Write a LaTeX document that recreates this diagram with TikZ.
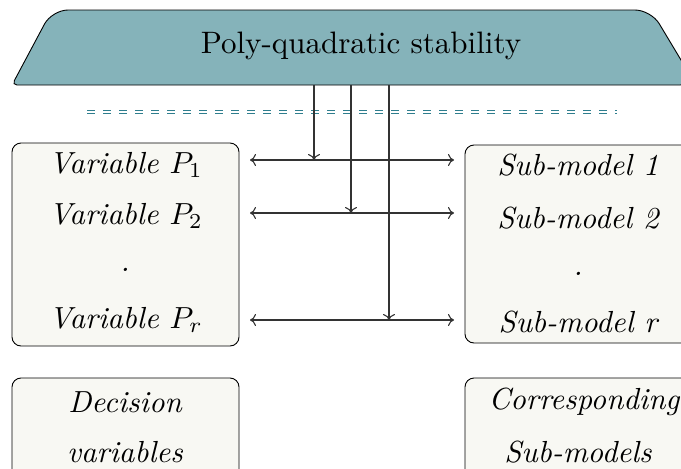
\documentclass[tikz,border=0pt]{standalone}
\usetikzlibrary{arrows.meta}
\usepackage{graphicx}
\definecolor{trapfill}{HTML}{85B3BA}
\definecolor{dashcol}{HTML}{2F7E8E}
\definecolor{boxfill}{HTML}{F8F8F3}
\definecolor{linecol}{HTML}{333333}
\newcommand{\bigit}[1]{\scalebox{3.05}{\itshape #1}}
\tikzset{
  bigtxt/.style={inner sep=0pt, anchor=center},
  roundbox/.style={draw=black, line width=0.9pt, fill=boxfill, rounded corners=9pt},
  conn/.style={draw=linecol, line width=1.1pt, -{To[length=6pt,width=12pt]}},
  biconn/.style={draw=linecol, line width=1.1pt, {To[length=6pt,width=12pt]}-{To[length=6pt,width=12pt]}},
}
\begin{document}
\begin{tikzpicture}[x=1pt,y=-1pt]
\useasboundingbox (0,0) rectangle (681,469);
\clip (0,0) rectangle (681,469);
% trapezoid
\draw[line width=0.9pt, fill=trapfill, rounded corners=5pt]
  (300,85) -- (12,85) [rounded corners=16pt] -- (52,10) -- (651,10) -- (696,85) -- cycle;
\node[inner sep=0pt] (title) at (361,46) {\scalebox{3.1}{Poly-quadratic stability}};
% dashed separator
\coordinate (dA) at (87,112);
\coordinate (dB) at (617,112);
\draw[dashcol, line width=1.8pt, double=white, double distance=1.2pt, dash pattern=on 8pt off 8pt] (dA) -- (dB);
% boxes
\draw[roundbox] (12,143) rectangle (239,346);
\draw[roundbox] (465,145) rectangle (700,343);
\draw[roundbox] (12,378) rectangle (239,490);
\draw[roundbox] (465,378) rectangle (700,490);
% left texts
\node[bigtxt] (v1) at (126,165) {\bigit{Variable $P_1$}};
\node[bigtxt] (v2) at (126,216) {\bigit{Variable $P_2$}};
\node[bigtxt] (v3) at (125,270) {\bigit{.}};
\node[bigtxt] (vr) at (126,320) {\bigit{Variable $P_r$}};
% right texts
\node[bigtxt] (s1) at (578,165) {\bigit{Sub-model 1}};
\node[bigtxt] (s2) at (578,218) {\bigit{Sub-model 2}};
\node[bigtxt] (s3) at (578,274) {\bigit{.}};
\node[bigtxt] (sr) at (578,322) {\bigit{Sub-model r}};
% bottom texts
\node[bigtxt] (d1) at (125,402) {\bigit{Decision}};
\node[bigtxt] (d2) at (125,452) {\bigit{variables}};
\node[bigtxt] (c1) at (584,402) {\bigit{Corresponding}};
\node[bigtxt] (c2) at (578,452) {\bigit{Sub-models}};
% horizontal connectors
\coordinate (h1l) at (250,160); \coordinate (h1r) at (454,160);
\coordinate (h2l) at (250,213); \coordinate (h2r) at (454,213);
\coordinate (h3l) at (250,320); \coordinate (h3r) at (454,320);
\draw[biconn] (h1l) -- (h1r);
\draw[biconn] (h2l) -- (h2r);
\draw[biconn] (h3l) -- (h3r);
% vertical connectors from trapezoid
\coordinate (t1) at (314,85); \coordinate (e1) at (314,160);
\coordinate (t2) at (351,85); \coordinate (e2) at (351,213);
\coordinate (t3) at (389,85); \coordinate (e3) at (389,320);
\draw[conn] (t1) -- (e1);
\draw[conn] (t2) -- (e2);
\draw[conn] (t3) -- (e3);
\end{tikzpicture}
\end{document}
